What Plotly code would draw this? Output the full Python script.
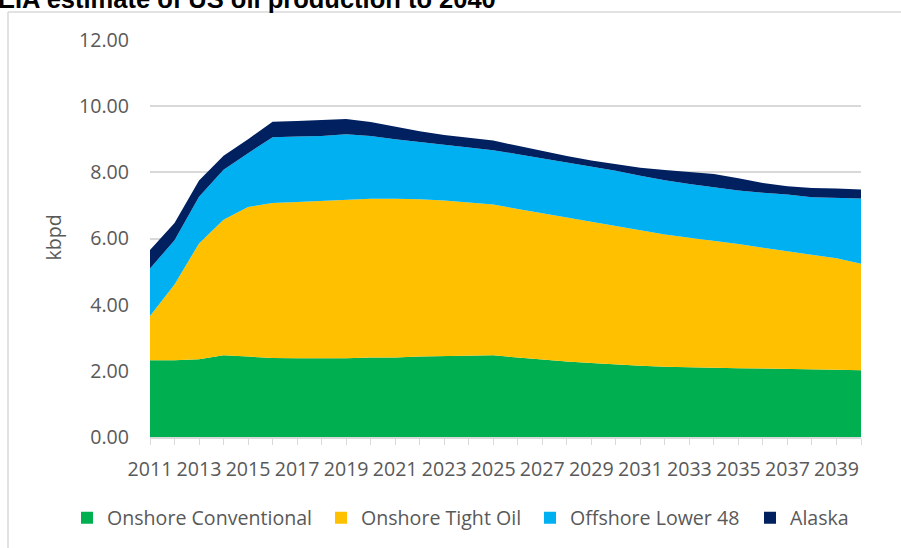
import plotly.graph_objects as go

years = list(range(2011, 2041))

onshore_conventional = [2.32, 2.32, 2.35, 2.47, 2.43, 2.39, 2.38, 2.37, 2.38, 2.40,
                        2.40, 2.43, 2.45, 2.47, 2.47, 2.40, 2.33, 2.28, 2.24, 2.19,
                        2.15, 2.12, 2.10, 2.09, 2.08, 2.07, 2.05, 2.04, 2.03, 2.02]
onshore_tight_oil = [1.34, 2.29, 3.50, 4.10, 4.52, 4.68, 4.72, 4.76, 4.79, 4.80,
                     4.80, 4.76, 4.70, 4.63, 4.56, 4.49, 4.43, 4.35, 4.26, 4.17,
                     4.08, 4.00, 3.92, 3.84, 3.75, 3.65, 3.56, 3.46, 3.37, 3.22]
offshore_lower_48 = [1.43, 1.34, 1.41, 1.51, 1.63, 1.99, 1.98, 1.97, 1.98, 1.90,
                     1.80, 1.73, 1.67, 1.64, 1.64, 1.66, 1.67, 1.68, 1.68, 1.69,
                     1.67, 1.64, 1.63, 1.62, 1.62, 1.66, 1.72, 1.75, 1.83, 1.97]
alaska = [0.56, 0.52, 0.49, 0.42, 0.42, 0.47, 0.47, 0.47, 0.46, 0.42,
          0.37, 0.32, 0.31, 0.30, 0.29, 0.25, 0.21, 0.18, 0.18, 0.20,
          0.24, 0.31, 0.37, 0.40, 0.37, 0.30, 0.25, 0.28, 0.28, 0.27]

series_names = ["Onshore Conventional", "Onshore Tight Oil", "Offshore Lower 48", "Alaska"]
series_values = [onshore_conventional, onshore_tight_oil, offshore_lower_48, alaska]
colors = ["#00B050", "#FFC000", "#00B0F0", "#002060"]

title_text = "EIA estimate of US oil production to 2040"
y_title = "kbpd"

W, H = 901, 548
ML, MR, MT, MB = 150, 40, 40, 110
PW, PH = W - ML - MR, H - MT - MB
FS = 19.6
TXT = "#595959"
grid = "#d9d9d9"

def px_x(p):
    return (p - ML) / PW

def px_y(p):
    return (H - MB - p) / PH

# left edge (px) of each legend entry box
legend_left_px = [67, 321, 530, 750]
legend_ids = ["legend", "legend2", "legend3", "legend4"]

fig = go.Figure()
for name, vals, col in zip(series_names, series_values, colors):
    fig.add_trace(go.Scatter(
        x=years, y=vals, name=name, mode="lines", stackgroup="one",
        line=dict(width=0, color=col), fillcolor=col, showlegend=False,
        hoverinfo="x+y+name"))
for name, col, lid in zip(series_names, colors, legend_ids):
    fig.add_trace(go.Scatter(
        x=[None], y=[None], name=name, mode="markers", legend=lid,
        marker=dict(symbol="square", size=12, color=col), showlegend=True))

legend_layout = {}
for lid, lx in zip(legend_ids, legend_left_px):
    legend_layout[lid] = dict(
        orientation="h", x=px_x(lx), xanchor="left",
        y=px_y(518), yanchor="middle", bgcolor="rgba(0,0,0,0)",
        font=dict(family="Open Sans", size=FS, color=TXT),
        itemwidth=30, borderwidth=0)

fig.update_layout(
    width=W, height=H,
    margin=dict(l=ML, r=MR, t=MT, b=MB, pad=0),
    paper_bgcolor="white", plot_bgcolor="white",
    font=dict(family="Open Sans", size=FS, color=TXT),
    showlegend=True,
    xaxis=dict(range=[2011, 2040], tick0=2011, dtick=2, tickformat="d",
               showgrid=False, zeroline=False,
               showline=True, linecolor=grid, linewidth=1.5,
               ticks="outside", ticklen=6, tickcolor=grid, tickwidth=1,
               minor=dict(dtick=1, tick0=2011, ticks="outside", ticklen=6,
                          tickcolor=grid, showgrid=False),
               ticklabelstandoff=8,
               tickfont=dict(family="Open Sans", size=FS, color=TXT)),
    yaxis=dict(range=[0, 12], dtick=2, tickformat=".2f",
               showgrid=True, gridcolor=grid, gridwidth=1.5,
               zeroline=False, showline=False, ticks="",
               ticklabelstandoff=20,
               tickfont=dict(family="Open Sans", size=FS, color=TXT)),
    annotations=[
        dict(text="<b>" + title_text + "</b>", xref="paper", yref="paper",
             x=px_x(-4), y=px_y(-1),
             xanchor="left", yanchor="middle", showarrow=False,
             font=dict(family="Arial", size=25.5, color="black")),
        dict(text=y_title, xref="paper", yref="paper", x=px_x(54), y=px_y(238),
             xanchor="center", yanchor="middle", textangle=-90, showarrow=False,
             font=dict(family="Open Sans", size=FS, color=TXT)),
    ],
    shapes=[
        dict(type="line", xref="paper", yref="paper", x0=px_x(8), x1=px_x(8),
             y0=px_y(H + 5), y1=px_y(12), line=dict(color=grid, width=1.5)),
        dict(type="line", xref="paper", yref="paper", x0=px_x(8), x1=px_x(W + 5),
             y0=px_y(12), y1=px_y(12), line=dict(color=grid, width=1.5)),
    ],
    **legend_layout,
)

fig.write_html("out.html", config={"displayModeBar": False},
               post_script="document.body.style.margin='0';")
